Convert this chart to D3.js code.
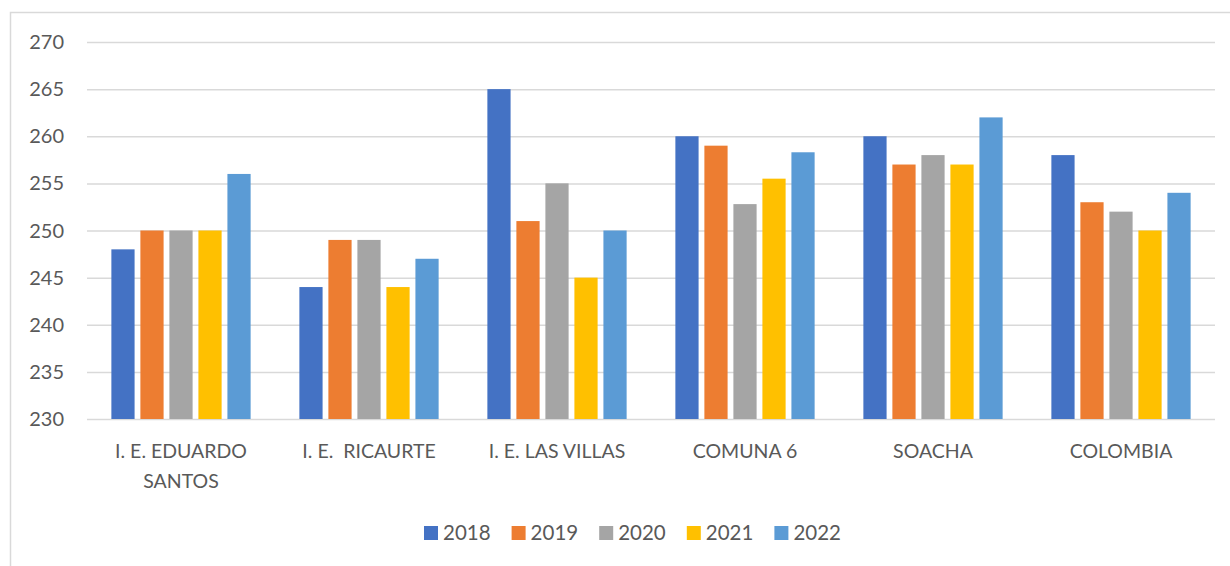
<!DOCTYPE html>
<html lang="es">
<head>
  <meta charset="utf-8">
  <title>Puntajes por año</title>
  <script src="https://d3js.org/d3.v7.min.js"></script>
  <style>
    body { margin: 0; background: #fff; }
    #chart text { font-family: Lato, "Noto Sans", sans-serif; fill: #595959; }
  </style>
</head>
<body>
  <div id="chart"></div>
  <script>
    "use strict"

    // datos
    var categorias = ["I. E. EDUARDO SANTOS", "I. E.  RICAURTE", "I. E. LAS VILLAS", "COMUNA 6", "SOACHA", "COLOMBIA"];
    var anios = ["2018", "2019", "2020", "2021", "2022"];
    var v2018 = [248, 244, 265, 260, 260, 258];
    var v2019 = [250, 249, 251, 259, 257, 253];
    var v2020 = [250, 249, 255, 252.8, 258, 252];
    var v2021 = [250, 244, 245, 255.5, 257, 250];
    var v2022 = [256, 247, 250, 258.3, 262, 254];
    var ticksY = [230, 235, 240, 245, 250, 255, 260, 265, 270];
    var colores = ["#4472c4", "#ed7d31", "#a5a5a5", "#ffc000", "#5b9bd5"];

    var series = [v2018, v2019, v2020, v2021, v2022];
    var dados = categorias.map(function(c, i) {
      return { cat: c, valores: anios.map(function(a, j) { return { anio: a, v: series[j][i] }; }) };
    });

    var W = 1230, H = 566;
    var margin = { top: 42, right: 15, bottom: 147, left: 87 };
    var larguraVis = W - margin.left - margin.right,
        alturaVis = H - margin.top - margin.bottom;

    var svg = d3.select('#chart').append('svg')
      .attr('width', W).attr('height', H);

    // borde del area del grafico
    svg.append('path')
      .attr('d', 'M10.5,' + H + 'V12.5H' + W)
      .attr('fill', 'none').attr('stroke', '#d9d9d9').attr('stroke-width', 1.5);

    var g = svg.append('g').attr('transform', 'translate(' + margin.left + ',' + margin.top + ')');

    var y = d3.scaleLinear().domain([230, 270]).range([alturaVis, 0]);
    var x0 = d3.scaleBand().domain(categorias).range([0, larguraVis]).padding(0);
    var x1 = d3.scaleBand().domain(anios).range([0, x0.bandwidth()]).paddingInner(0.2).paddingOuter(0.84);
    var cor = d3.scaleOrdinal().domain(anios).range(colores);

    // lineas de la grilla
    g.append('g')
      .call(d3.axisLeft(y).tickValues(ticksY).tickSize(-larguraVis).tickFormat(''))
      .call(function(s) { s.select('.domain').remove(); })
      .selectAll('line').attr('stroke', '#d9d9d9').attr('stroke-width', 1.5);

    // etiquetas eje y
    g.append('g')
      .selectAll('text').data(ticksY).enter().append('text')
      .attr('x', -23).attr('y', function(d) { return y(d); })
      .attr('dy', '0.35em').attr('text-anchor', 'end')
      .style('font-size', '20px')
      .text(function(d) { return d; });

    // barras
    g.selectAll('.grupo').data(dados).enter().append('g')
      .attr('class', 'grupo')
      .attr('transform', function(d) { return 'translate(' + x0(d.cat) + ',0)'; })
      .selectAll('rect').data(function(d) { return d.valores; }).enter().append('rect')
        .attr('x', function(d) { return x1(d.anio); })
        .attr('width', x1.bandwidth())
        .attr('y', function(d) { return y(d.v); })
        .attr('height', function(d) { return alturaVis - y(d.v); })
        .attr('fill', function(d) { return cor(d.anio); });

    // etiquetas de categorias (Eduardo Santos en dos lineas)
    var lineas = function(c) { return c === "I. E. EDUARDO SANTOS" ? ["I. E. EDUARDO", "SANTOS"] : [c]; };
    g.selectAll('.cat').data(categorias).enter().append('text')
      .attr('class', 'cat')
      .attr('text-anchor', 'middle')
      .attr('transform', function(d) { return 'translate(' + (x0(d) + x0.bandwidth() / 2) + ',' + (alturaVis + 39) + ')'; })
      .style('font-size', '19.5px')
      .style('white-space', 'pre')
      .selectAll('tspan').data(lineas).enter().append('tspan')
        .attr('x', 0).attr('dy', function(d, i) { return i ? 30 : 0; })
        .text(function(d) { return d; });

    // leyenda
    var leg = svg.append('g').attr('transform', 'translate(424,533)');
    var item = leg.selectAll('g').data(anios).enter().append('g')
      .attr('transform', function(d, i) { return 'translate(' + (i * 87.6) + ',0)'; });
    item.append('rect').attr('x', 0).attr('y', -7).attr('width', 14).attr('height', 14)
      .attr('fill', function(d) { return cor(d); });
    item.append('text').attr('x', 19).attr('dy', '0.35em')
      .style('font-size', '20.5px').text(function(d) { return d; });
  </script>
</body>
</html>
